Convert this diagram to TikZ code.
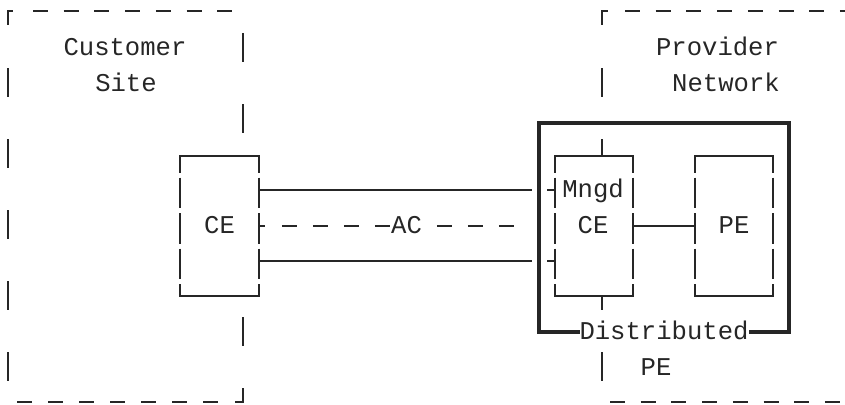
\documentclass[tikz,border=0pt]{standalone}
\usepackage{fontspec}
\setmonofont{Liberation Mono}
\usetikzlibrary{positioning,calc}
\definecolor{ink}{HTML}{262626}
\tikzset{
  % Base styles
  ascii base/.style={
    x=1pt, y=-1pt,
    every node/.style={font=\ttfamily\fontsize{25.6}{30}\selectfont, text=ink, outer sep=0pt},
  },
  % Lines
  box line/.style={draw=ink, line width=2.1pt},
  heavy line/.style={draw=ink, line width=4pt},
  side gaps/.style={dash pattern=on 30.5pt off 5pt, dash phase=14pt},
  site border/.style={box line, dash pattern=on 29pt off 42pt},
  rule dashes/.style={box line, dash pattern=on 15pt off 15.7pt},
  ac dashes/.style={box line, dash pattern=on 15pt off 16pt},
  % Boxes
  cell node/.style={rectangle, fill=white, minimum width=78.5pt, minimum height=140pt, inner sep=0pt},
  dist box/.style={rectangle, heavy line, minimum width=250pt, minimum height=209pt, inner sep=0pt},
  % Text
  label text/.style={anchor=base, inner sep=0pt},
  cut text/.style={label text, fill=white},
}
% box with gaps in its sides
\newcommand{\cellsides}[1]{%
  \draw[box line, line cap=rect] (#1.north west) -- (#1.north east);
  \draw[box line, line cap=rect] (#1.south west) -- (#1.south east);
  \draw[box line, side gaps] (#1.north west) -- (#1.south west);
  \draw[box line, side gaps] (#1.north east) -- (#1.south east);
}

\begin{document}
\begin{tikzpicture}[ascii base]
\useasboundingbox (0,0) rectangle (845,404);

% Customer site border
\draw[box line] (8,25) -- (8,11) -- (13,11);
\draw[rule dashes] (33,11) -- (233,11);
\draw[site border] (8,68) -- (8,382);
\draw[site border] (243,33) -- (243,402) -- (235,402);
\draw[ac dashes] (17,402) -- (218,402);

% Provider network border
\draw[box line] (602,25) -- (602,11) -- (608,11);
\draw[rule dashes] (625,11) -- (845,11);
\draw[site border] (602,68) -- (602,381);
\draw[rule dashes] (610,402) -- (845,402);

% Rows
\coordinate (row5) at (0,190);
\coordinate (row6) at (0,226);
\coordinate (row7) at (0,261);

% Distributed PE
\node[dist box] (dpe) at (664,227.5) {};

% Boxes
\node[cell node] (ce) at (219.5,226) {};
\node[cell node] (mngd) at (594,226) {};
\node[cell node, right=61.5pt of mngd] (pe) {};
\cellsides{ce}
\cellsides{mngd}
\cellsides{pe}

% Texts
\node[label text] (custtxt) at (125,55.5) {Customer};
\node[label text] (sitetxt) at (126,91) {Site};
\node[label text] (provtxt) at (717.5,55.5) {Provider};
\node[label text] (nettxt) at (726,91) {Network};
\node[label text] (cetxt) at (219.5,233) {CE};
\node[label text] (mngdtxt) at (593,197.5) {Mngd};
\node[label text] (mcetxt) at (593,233) {CE};
\node[label text] (petxt) at (734,233) {PE};
\node[label text] (dpetxt) at (656,375) {PE};

% Edges
\draw[box line, shorten >=7pt] (ce.east |- row5) -- (dpe.west |- row5);
\draw[box line, shorten >=7pt] (ce.east |- row7) -- (dpe.west |- row7);
\draw[box line] (mngd.west |- row5) -- ++(-8,0);
\draw[box line] (mngd.west |- row7) -- ++(-8,0);
\draw[box line] (ce.east |- row6) -- ++(6,0);
\coordinate (acend) at (515,226);
\draw[ac dashes] ($(ce.east |- row6)+(23,0)$) -- (acend);
\node[cut text] (actxt) at (406.5,233) {AC};
\draw[box line] (mngd) -- (pe);
\node[cut text] (disttxt) at (664,339.5) {Distributed};
\end{tikzpicture}
\end{document}
